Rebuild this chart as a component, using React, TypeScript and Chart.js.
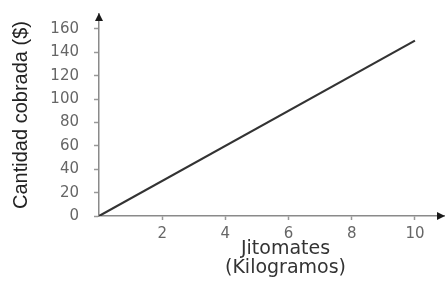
import React, { useEffect, useRef } from "react";
import { Chart, registerables } from "chart.js";

Chart.register(...registerables);

const kilos = [0, 10];
const cost = [0, 150];
const xTickValues = [2, 4, 6, 8, 10];
const yTickValues = [0, 20, 40, 60, 80, 100, 120, 140, 160];
const yTitle = "Cantidad cobrada ($)";
const xTitleLines = ["Jitomates", "(Kilogramos)"];

const arrowsAndTitle = {
  id: "arrowsAndTitle",
  afterDraw(chart: any) {
    const { ctx, chartArea } = chart;
    const { left, right, top, bottom } = chartArea;
    ctx.save();
    ctx.fillStyle = "#1a1a1a";
    // y arrow
    ctx.beginPath();
    ctx.moveTo(left, top - 1);
    ctx.lineTo(left - 4, top + 7);
    ctx.lineTo(left + 4, top + 7);
    ctx.closePath();
    ctx.fill();
    // x arrow
    ctx.beginPath();
    ctx.moveTo(right + 1, bottom);
    ctx.lineTo(right - 7, bottom - 4);
    ctx.lineTo(right - 7, bottom + 4);
    ctx.closePath();
    ctx.fill();
    // x title
    ctx.fillStyle = "#333";
    ctx.font = "19px 'DejaVu Sans'";
    ctx.textAlign = "center";
    ctx.textBaseline = "alphabetic";
    const cx = (left + right) / 2 + 14;
    ctx.fillText(xTitleLines[0], cx, bottom + 38);
    ctx.fillText(xTitleLines[1], cx, bottom + 57);
    ctx.restore();
  },
};

export default function App() {
  const ref = useRef<HTMLCanvasElement>(null);
  useEffect(() => {
    if (!ref.current) return;
    const chart = new Chart(ref.current, {
      type: "line",
      data: {
        datasets: [
          {
            data: kilos.map((k, i) => ({ x: k, y: cost[i] })),
            borderColor: "#333",
            borderWidth: 2.2,
            pointRadius: 0,
            tension: 0,
          },
        ],
      },
      options: {
        animation: false,
        responsive: false,
        layout: { padding: { top: 14, right: 2, left: 0, bottom: 0 } },
        plugins: { legend: { display: false }, tooltip: { enabled: false } },
        scales: {
          x: {
            type: "linear",
            min: 0,
            max: 10.92,
            afterBuildTicks: (s: any) => {
              s.ticks = xTickValues.map((v) => ({ value: v }));
            },
            afterFit: (s: any) => {
              s.height = 66;
              s.paddingLeft = 0;
              s.paddingRight = 0;
            },
            border: { display: true, color: "#8a8a8a", width: 1.5 },
            grid: { drawOnChartArea: false, drawTicks: true, tickLength: 4, tickColor: "#999", tickWidth: 1.5 },
            ticks: {
              color: "#666",
              font: { family: "'DejaVu Sans'", size: 15 },
              padding: 5,
              maxRotation: 0,
              autoSkip: false,
            },
          },
          y: {
            type: "linear",
            min: 0,
            max: 172.8,
            afterBuildTicks: (s: any) => {
              s.ticks = yTickValues.map((v) => ({ value: v }));
            },
            afterFit: (s: any) => {
              s.width = 99;
              s.paddingTop = 0;
              s.paddingBottom = 0;
            },
            border: { display: true, color: "#8a8a8a", width: 1.5 },
            grid: { drawOnChartArea: false, drawTicks: true, tickLength: 5, tickColor: "#999", tickWidth: 1.5 },
            ticks: {
              color: "#666",
              font: { family: "'DejaVu Sans'", size: 15 },
              padding: 15,
              autoSkip: false,
            },
            title: {
              display: true,
              text: yTitle,
              color: "#222",
              font: { family: "'Liberation Sans'", size: 20 },
              padding: { top: 9, bottom: 0 },
            },
          },
        },
      },
      plugins: [arrowsAndTitle],
    });
    return () => chart.destroy();
  }, []);
  return (
    <div style={{ position: "fixed", left: 0, top: 0, width: 446, height: 282, background: "#fff" }}>
      <canvas ref={ref} width={446} height={282} />
    </div>
  );
}
